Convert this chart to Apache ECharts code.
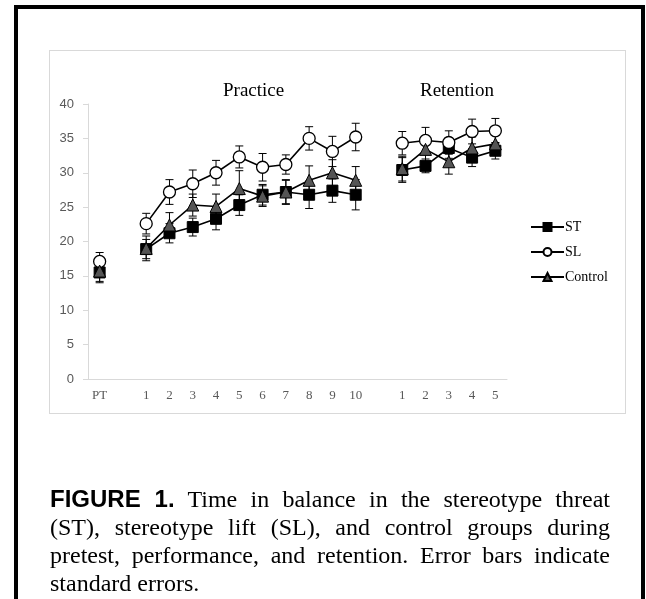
<!DOCTYPE html>
<html>
<head>
<meta charset="utf-8">
<script src="https://cdn.jsdelivr.net/npm/echarts@6/dist/echarts.min.js"></script>
<style>
  html, body { margin:0; padding:0; background:#fff; width:646px; height:599px; overflow:hidden; }
  #frame { position:absolute; left:14px; top:5px; width:623px; height:620px; border:4px solid #000; border-bottom:none; }
  #panel { position:absolute; left:49px; top:50px; width:575px; height:362px; border:1px solid #d9d9d9; }
  #chart { position:absolute; left:0; top:0; width:646px; height:599px; }
  #caption { position:absolute; left:50px; top:485px; width:560px; font-family:'Liberation Serif','Times New Roman',serif; font-size:24px; line-height:28px; color:#000; }
  #caption span { display:block; text-align:justify; text-align-last:justify; white-space:nowrap; }
  #caption span.last { text-align-last:left; }
  #caption b { font-family:'Liberation Sans',Arial,sans-serif; font-weight:bold; }
</style>
</head>
<body>
<div id="frame"></div>
<div id="panel"></div>
<div id="chart"></div>
<div id="caption"><span><b>FIGURE 1.</b> Time in balance in the stereotype threat</span><span>(ST), stereotype lift (SL), and control groups during</span><span>pretest, performance, and retention. Error bars indicate</span><span class="last">standard errors.</span></div>
<script>
// Categories: pretest, gap, practice 1-10, gap, retention 1-5
const categories = ['PT','g1','P1','P2','P3','P4','P5','P6','P7','P8','P9','P10','g2','R1','R2','R3','R4','R5'];
const tickLabels = ['PT','','1','2','3','4','5','6','7','8','9','10','','1','2','3','4','5'];
const yTicks = [0,5,10,15,20,25,30,35,40];

const stMean = [15.5,null,18.9,21.2,22.1,23.3,25.3,26.8,27.2,26.8,27.4,26.8,null,30.4,31.0,33.6,32.2,33.2];
const stSE   = [1.5,null,1.4,1.4,1.3,1.6,1.5,1.5,1.7,2.0,1.7,2.2,null,1.8,1.0,1.5,1.3,1.2];
const slMean = [17.1,null,22.6,27.2,28.4,30.0,32.3,30.8,31.2,35.0,33.1,35.2,null,34.3,34.7,34.4,36.0,36.1];
const slSE   = [1.3,null,1.5,1.8,2.0,1.8,1.6,2.0,1.4,1.7,2.2,2.0,null,1.7,1.9,1.7,1.8,1.8];
const ctMean = [15.7,null,19.0,22.4,25.3,25.1,27.7,26.6,27.2,28.9,30.0,28.9,null,30.6,33.4,31.6,33.6,34.2];
const ctSE   = [1.5,null,1.8,1.8,1.6,1.8,2.6,1.5,1.8,2.1,1.9,2.0,null,1.8,1.9,1.8,1.6,1.3];

function errData(mean, se) {
  const out = [];
  mean.forEach((m, i) => { if (m !== null) out.push([i, m, se[i]]); });
  return out;
}
function errSeries(name, mean, se) {
  return {
    name: name, type: 'custom', z: 1, silent: true,
    data: errData(mean, se),
    encode: { x: 0, y: 1 },
    renderItem: function (params, api) {
      const x = api.value(0), m = api.value(1), s = api.value(2);
      const top = api.coord([x, m + s]);
      const bot = api.coord([x, m - s]);
      const w = 4;
      const st = { stroke: '#000', lineWidth: 1 };
      return { type: 'group', children: [
        { type: 'line', shape: { x1: top[0], y1: top[1], x2: bot[0], y2: bot[1] }, style: st },
        { type: 'line', shape: { x1: top[0]-w, y1: top[1], x2: top[0]+w, y2: top[1] }, style: st },
        { type: 'line', shape: { x1: bot[0]-w, y1: bot[1], x2: bot[0]+w, y2: bot[1] }, style: st }
      ]};
    }
  };
}

const chart = echarts.init(document.getElementById('chart'), null, { renderer: 'canvas' });
const serifFont = "'Liberation Serif','Times New Roman',serif";
chart.setOption({
  animation: false,
  backgroundColor: 'transparent',
  grid: { left: 88, right: 139, top: 104, bottom: 220, containLabel: false },
  graphic: [
    { type: 'text', left: 254 - 31, top: 82, style: { text: 'Practice', font: '19px ' + serifFont, fill: '#000' } },
    { type: 'text', left: 457 - 37, top: 82, style: { text: 'Retention', font: '19px ' + serifFont, fill: '#000' } }
  ],
  legend: {
    data: ['ST','SL','Control'],
    orient: 'vertical', left: 525, top: 215,
    itemWidth: 33, itemHeight: 10, itemGap: 11,
    textStyle: { fontFamily: serifFont, fontSize: 14, color: '#000', padding: [0,0,0,-4] }
  },
  xAxis: {
    type: 'category', data: categories, boundaryGap: true,
    axisLine: { lineStyle: { color: '#d9d9d9', width: 1 } },
    axisTick: { alignWithLabel: true, length: 5, lineStyle: { color: '#d9d9d9' } },
    axisLabel: { interval: 0, margin: 10, fontFamily: serifFont, fontSize: 13, color: '#595959',
      formatter: function (v, i) { return tickLabels[i]; } },
    splitLine: { show: false }
  },
  yAxis: {
    type: 'value', min: yTicks[0], max: yTicks[yTicks.length-1], interval: 5,
    axisLine: { show: true, lineStyle: { color: '#d9d9d9', width: 1 } },
    axisTick: { show: true, length: 5, lineStyle: { color: '#d9d9d9' } },
    axisLabel: { margin: 14, fontFamily: "'Liberation Sans',Arial,sans-serif", fontSize: 13, color: '#595959' },
    splitLine: { show: false }
  },
  series: [
    errSeries('ST err', stMean, stSE),
    errSeries('SL err', slMean, slSE),
    errSeries('Control err', ctMean, ctSE),
    { name: 'ST', type: 'line', data: stMean, connectNulls: false, z: 3,
      symbol: 'rect', symbolSize: 11, showAllSymbol: true,
      lineStyle: { color: '#000', width: 1.6 },
      itemStyle: { color: '#000', borderColor: '#000', borderWidth: 1 } },
    { name: 'SL', type: 'line', data: slMean, connectNulls: false, z: 4,
      symbol: 'circle', symbolSize: 12, showAllSymbol: true,
      lineStyle: { color: '#000', width: 1.6 },
      itemStyle: { color: '#fff', borderColor: '#000', borderWidth: 1.3 } },
    { name: 'Control', type: 'line', data: ctMean, connectNulls: false, z: 5,
      symbol: 'triangle', symbolSize: 12, showAllSymbol: true,
      lineStyle: { color: '#000', width: 1.6 },
      itemStyle: { color: '#555', borderColor: '#000', borderWidth: 1 } }
  ]
});
</script>
</body>
</html>
